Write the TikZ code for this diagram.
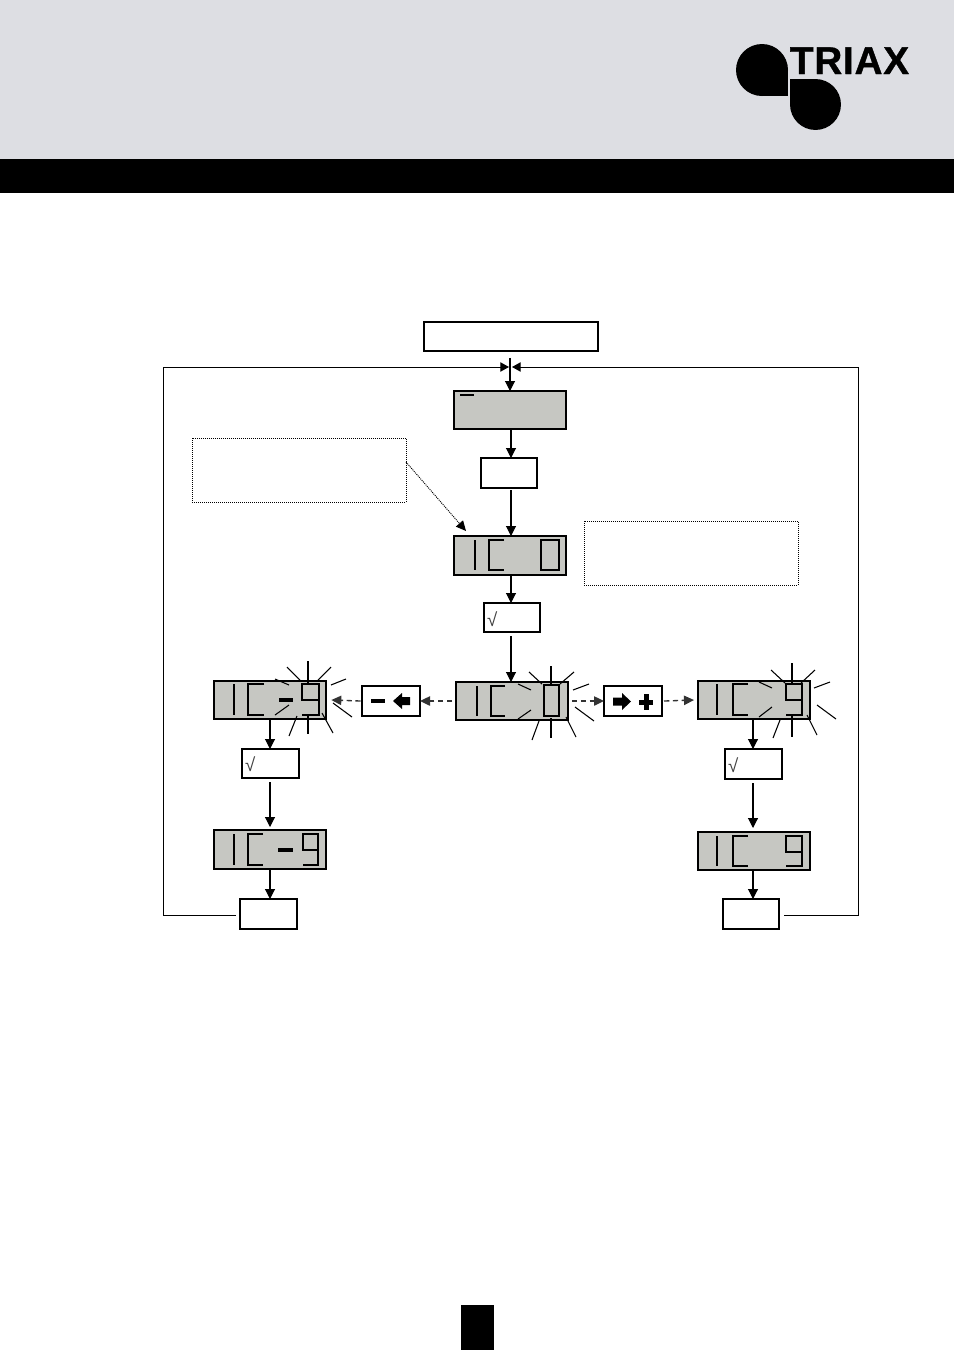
\documentclass[tikz,border=0pt]{standalone}
\usepackage{fontspec}
\setmainfont{Liberation Sans}
\newfontfamily\logofont[FakeBold=1.0,LetterSpace=2]{Liberation Sans Bold}
\usetikzlibrary{arrows.meta}
\definecolor{headgray}{HTML}{DDDEE3}
\definecolor{lcdgray}{HTML}{C6C7C2}
\definecolor{wire}{HTML}{333333}
\newcommand\bx[6]{\node[#2,minimum width={(#5-#3)*0.75pt},minimum height={(#6-#4)*0.75pt}] (#1) at ({(#3+#5)/2},{(#4+#6)/2}) {};}
\newcommand\lcdIC[5]{% I x, C x1, C x2, top, bottom
  \draw[seg] (#1,#4)--(#1,#5);
  \draw[seg] (#3,#4)--(#2,#4)--(#2,#5)--(#3,#5);}
\newcommand\lcdNine[5]{% x1,x2,top,mid,bottom
  \draw[seg] (#2,#4)--(#1,#4)--(#1,#3)--(#2,#3)--(#2,#5)--(#1,#5);}
\tikzset{
  every node/.style={inner sep=0pt,outer sep=0pt},
  lcdbox/.style={draw=black,fill=lcdgray,line width=1.5pt},
  plainbox/.style={draw=black,fill=white,line width=1.5pt},
  notebox/.style={draw=black,dash pattern=on .75pt off .75pt,line width=.75pt},
  seg/.style={draw=black,line width=1.1pt,line join=miter},
  ray/.style={draw=black,line width=.8pt},
  vray/.style={draw=black,line width=1.1pt},
  arr/.style={draw=black,line width=.8pt,-{Triangle[length=7.5pt,width=7.5pt]}},
  darr/.style={draw=wire,line width=1pt,dash pattern=on 4pt off 2.6pt,-{Triangle[length=7.5pt,width=7pt]}},
  frame/.style={draw=black,line width=.75pt},
  check/.style={font=\fontsize{14}{14}\selectfont,anchor=west,text=black!75},
}
\begin{document}
\begin{tikzpicture}[x=0.75pt,y=-0.75pt]
\useasboundingbox (0,0) rectangle (954,1350);
% header
\fill[headgray] (0,0) rectangle (954,159);
\fill[black] (0,159) rectangle (954,193);
\fill[black] (461,1305) rectangle (494,1350);
% logo
\fill[black] (762,70) circle[radius=19.5pt];
\fill[black] (762,70) rectangle (788,96);
\fill[black] (815.5,104.5) circle[radius=19.1pt];
\fill[black] (790,79) rectangle (815.5,104.5);
\node[anchor=base west,font=\fontsize{29}{29}\selectfont\logofont] (logo) at (790,74) {TRIAX};
% helper coordinates
\coordinate (x510) at (510,0);
\coordinate (x511) at (511,0);
\coordinate (x270) at (270,0);
\coordinate (x753) at (753,0);
% boxes
\bx{start}{plainbox}{424}{322}{598}{351}
\bx{lcdA}{lcdbox}{454}{391}{566}{429}
\bx{keyA}{plainbox}{481}{458}{537}{488}
\bx{lcdB}{lcdbox}{454}{536}{566}{575}
\bx{okB}{plainbox}{484}{603}{540}{632}
\bx{lcdC}{lcdbox}{456}{682}{568}{720}
\bx{minus}{plainbox}{362}{686}{420}{716}
\bx{plus}{plainbox}{604}{686}{662}{716}
\bx{lcdL}{lcdbox}{214}{681}{326}{719}
\bx{lcdR}{lcdbox}{698}{681}{810}{719}
\bx{okL}{plainbox}{242}{749}{299}{778}
\bx{okR}{plainbox}{725}{749}{782}{779}
\bx{lcdLL}{lcdbox}{214}{830}{326}{869}
\bx{lcdRR}{lcdbox}{698}{832}{810}{870}
\bx{keyL}{plainbox}{240}{899}{297}{929}
\bx{keyR}{plainbox}{723}{899}{779}{929}
\bx{noteA}{notebox}{192}{438}{406}{502}
\bx{noteB}{notebox}{584}{521}{798}{585}
% check marks
\node[check] (chkB) at (487,619) {√};
\node[check] (chkL) at (245,764) {√};
\node[check] (chkR) at (728,765) {√};
% LCD A
\draw[black,line width=1.1pt] (460,395)--(474,395);
% LCD B
\lcdIC{475}{489}{504}{540}{570}
\draw[seg] (541,540) rectangle (559,570);
% LCD C
\lcdIC{477}{491}{505}{686}{716}
\draw[seg] (544,685) rectangle (559,716);
% LCD L
\lcdIC{234}{248}{264}{684}{715}
\fill[black] (279,698) rectangle (293,702);
\lcdNine{302}{319}{684}{700}{715}
% LCD R
\lcdIC{717}{733}{748}{684}{715}
\lcdNine{786}{802}{684}{700}{715}
% LCD LL
\lcdIC{234}{248}{263}{834}{865}
\fill[black] (278,848) rectangle (293,852);
\lcdNine{303}{318}{834}{850}{865}
% LCD RR
\lcdIC{717}{733}{748}{836}{866}
\lcdNine{786}{802}{836}{852}{866}
% blink rays: left
\draw[vray] (308,661)--(308,684) (308,715)--(308,734);
\draw[ray] (287,667)--(300,680) (331,667)--(318,680) (346,679)--(331,685)
  (352,717)--(333,703) (333,733)--(322,713) (297,716)--(289,736)
  (275,679)--(289,685) (289,705)--(275,715);
% blink rays: centre
\draw[vray] (551,666)--(551,685) (551,718)--(551,738);
\draw[ray] (529,672)--(542,684) (574,672)--(560,684) (589,684)--(573,690)
  (594,721)--(575,707) (576,737)--(566,717) (539,721)--(532,740)
  (518,684)--(531,690) (531,710)--(518,719);
% blink rays: right
\draw[vray] (792,663)--(792,683) (792,716)--(792,737);
\draw[ray] (771,670)--(785,683) (815,670)--(801,683) (830,682)--(814,688)
  (836,719)--(817,705) (817,735)--(807,715) (780,720)--(773,738)
  (759,682)--(772,688) (772,707)--(759,717);
% key icons
\fill[black] (371,699) rectangle (385,703);
\fill[black] (393,701)--(402,693)--(402,697)--(410,697)--(410,705)--(402,705)--(402,709)--cycle;
\fill[black] (631,701.5)--(622,693)--(622,697.5)--(613,697.5)--(613,705.5)--(622,705.5)--(622,710)--cycle;
\fill[black] (639,699.5) rectangle (653,704.5);
\fill[black] (643.5,694) rectangle (648.5,710);
% connectors
\draw[arr] ([yshift=-5.2pt]start.south -| x510) -- (lcdA.north -| x510);
\draw[arr] (lcdA.south -| x511) -- (keyA.north -| x511);
\draw[arr] ([yshift=-1.5pt]keyA.south -| x511) -- (lcdB.north -| x511);
\draw[arr] (lcdB.south -| x511) -- (okB.north -| x511);
\draw[arr] ([yshift=-3pt]okB.south -| x511) -- (lcdC.north -| x511);
\draw[darr] ([xshift=-3pt]lcdC.west) -- (minus.east);
\draw[darr] ([xshift=-1pt]minus.west) -- ([xshift=4pt]lcdL.east);
\draw[darr] ([xshift=3pt]lcdC.east) -- (plus.west);
\draw[darr] ([xshift=1.5pt]plus.east) -- ([xshift=-3pt]lcdR.west);
\draw[arr] (lcdL.south -| x270) -- (okL.north -| x270);
\draw[arr] ([yshift=-3pt]okL.south -| x270) -- ([yshift=2.25pt]lcdLL.north -| x270);
\draw[arr] (lcdLL.south -| x270) -- (keyL.north -| x270);
\draw[arr] (lcdR.south -| x753) -- (okR.north -| x753);
\draw[arr] ([yshift=-3pt]okR.south -| x753) -- ([yshift=3pt]lcdRR.north -| x753);
\draw[arr] (lcdRR.south -| x753) -- (keyR.north -| x753);
\draw[black,line width=.7pt,dash pattern=on .75pt off .75pt,-{Triangle[length=7.5pt,width=7pt]}] ([yshift=6pt]noteA.east) -- (466,531);
% feedback frame
\coordinate (jl) at (509,367);
\coordinate (jr) at (512,367);
\coordinate (fl) at (163,915);
\coordinate (fr) at (858,915);
\draw[frame,-{Triangle[length=6.5pt,width=7pt]}] ([xshift=-3pt]keyL.west |- fl) -- (fl) -- (163,367) -- (jl);
\draw[frame,-{Triangle[length=6.5pt,width=7pt]}] ([xshift=4pt]keyR.east |- fr) -- (fr) -- (858,367) -- (jr);
\end{tikzpicture}
\end{document}
